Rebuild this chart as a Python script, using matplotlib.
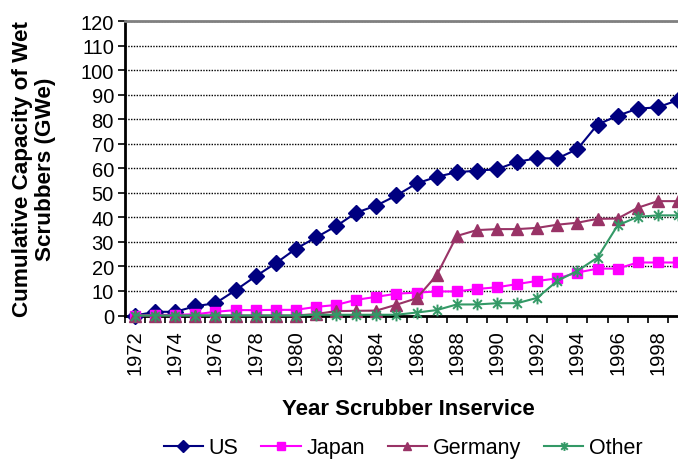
import matplotlib
matplotlib.use("Agg")
import matplotlib.pyplot as plt
from matplotlib.path import Path
import numpy as np

plt.rcParams['font.family'] = ['Liberation Sans', 'DejaVu Sans']

years = list(range(1972, 2000))
us = [0, 1.5, 1.5, 3.8, 5.0, 10.3, 16.0, 21.3, 27.2, 31.8, 36.4, 41.9, 44.8, 48.9,
      53.8, 56.5, 58.4, 59.0, 59.6, 62.6, 64.1, 64.0, 67.8, 77.8, 81.4, 84.3, 84.8, 87.8]
japan = [0, 0.2, 0.3, 0.5, 1.5, 2.2, 2.2, 2.3, 2.3, 3.5, 4.3, 6.4, 7.6, 8.9,
         9.3, 9.8, 9.8, 10.8, 11.5, 12.8, 14.1, 15.1, 17.5, 19.1, 19.1, 21.6, 21.6, 21.6]
germany = [0, 0, 0, 0, 0, 0, 0, 0, 0, 0.6, 1.8, 1.9, 2.0, 4.4,
           7.0, 16.4, 32.4, 34.8, 35.2, 35.2, 35.7, 37.0, 37.8, 39.4, 39.5, 43.9, 46.6, 46.6]
other = [0, 0, 0, 0, 0, 0, 0, 0, 0, 0.3, 0.3, 0.3, 0.3, 0.3,
         1.2, 2.2, 4.5, 4.5, 5.0, 5.0, 7.2, 14.1, 18.2, 23.6, 36.7, 40.2, 40.8, 40.8]
series_names = ["US", "Japan", "Germany", "Other"]
yticks = list(range(0, 121, 10))

colors = ['#000080', '#FF00FF', '#993366', '#339966']

ast = Path([(-1, -1), (1, 1), (-1, 1), (1, -1), (0, -1.35), (0, 1.35)],
           [Path.MOVETO, Path.LINETO, Path.MOVETO, Path.LINETO, Path.MOVETO, Path.LINETO])

fig = plt.figure(figsize=(6.78, 4.6), dpi=100)
L, R, T, B = 125, 688, 22, 316.5
ax = fig.add_axes([L / 678, 1 - B / 460, (R - L) / 678, (B - T) / 460])

x = np.arange(len(years))
data = [us, japan, germany, other]
markers = ['D', 's', '^', ast]
msizes = [8, 7.5, 8.5, 8.5]
for vals, c, m, ms, name in zip(data, colors, markers, msizes, series_names):
    kw = dict(markerfacecolor=c, markeredgecolor=c)
    if m is ast:
        kw = dict(markeredgecolor=c, markeredgewidth=1.4)
    ax.plot(x, vals, color=c, lw=1.5, marker=m, markersize=ms, label=name,
            clip_on=False, zorder=3, **kw)

ax.set_xlim(-0.5, len(years) - 0.5)
ax.set_ylim(0, 120)
ax.set_yticks(yticks)
ax.set_yticklabels([str(v) for v in yticks], fontsize=14.5)
ax.set_xticks(x[::2])
ax.set_xticklabels([str(y) for y in years[::2]], rotation=90, fontsize=14.5)
ax.set_xticks(np.arange(-0.5, len(years), 1.0), minor=True)
ax.tick_params(axis='x', which='major', length=0, pad=10)
ax.tick_params(axis='x', which='minor', length=5, width=1.2, direction='out', color='black')
ax.tick_params(axis='y', which='major', length=5, width=1.2, direction='out', pad=3)

ax.grid(axis='y', linestyle=(0, (1, 1)), color='black', lw=1)
ax.set_axisbelow(True)
ax.spines['left'].set_linewidth(2)
ax.spines['bottom'].set_linewidth(2)
ax.spines['top'].set_color('#808080')
ax.spines['top'].set_linewidth(2)
ax.spines['right'].set_visible(False)

fig.text(408 / 678, 1 - 410 / 460, "Year Scrubber Inservice", fontsize=16,
         fontweight='bold', ha='center', va='center')
fig.text(34 / 678, 1 - 169 / 460, "Cumulative Capacity of Wet\nScrubbers (GWe)",
         fontsize=16.2, fontweight='bold', rotation=90, ha='center', va='center',
         multialignment='center', linespacing=1.15)

fig.legend(loc='center', bbox_to_anchor=(403 / 678, 1 - 449 / 460), ncol=4,
           frameon=False, fontsize=15.5, handlelength=1.85, handletextpad=0.25,
           columnspacing=1.05, markerscale=0.75, borderpad=0)

fig.savefig("out.png", dpi=100)
